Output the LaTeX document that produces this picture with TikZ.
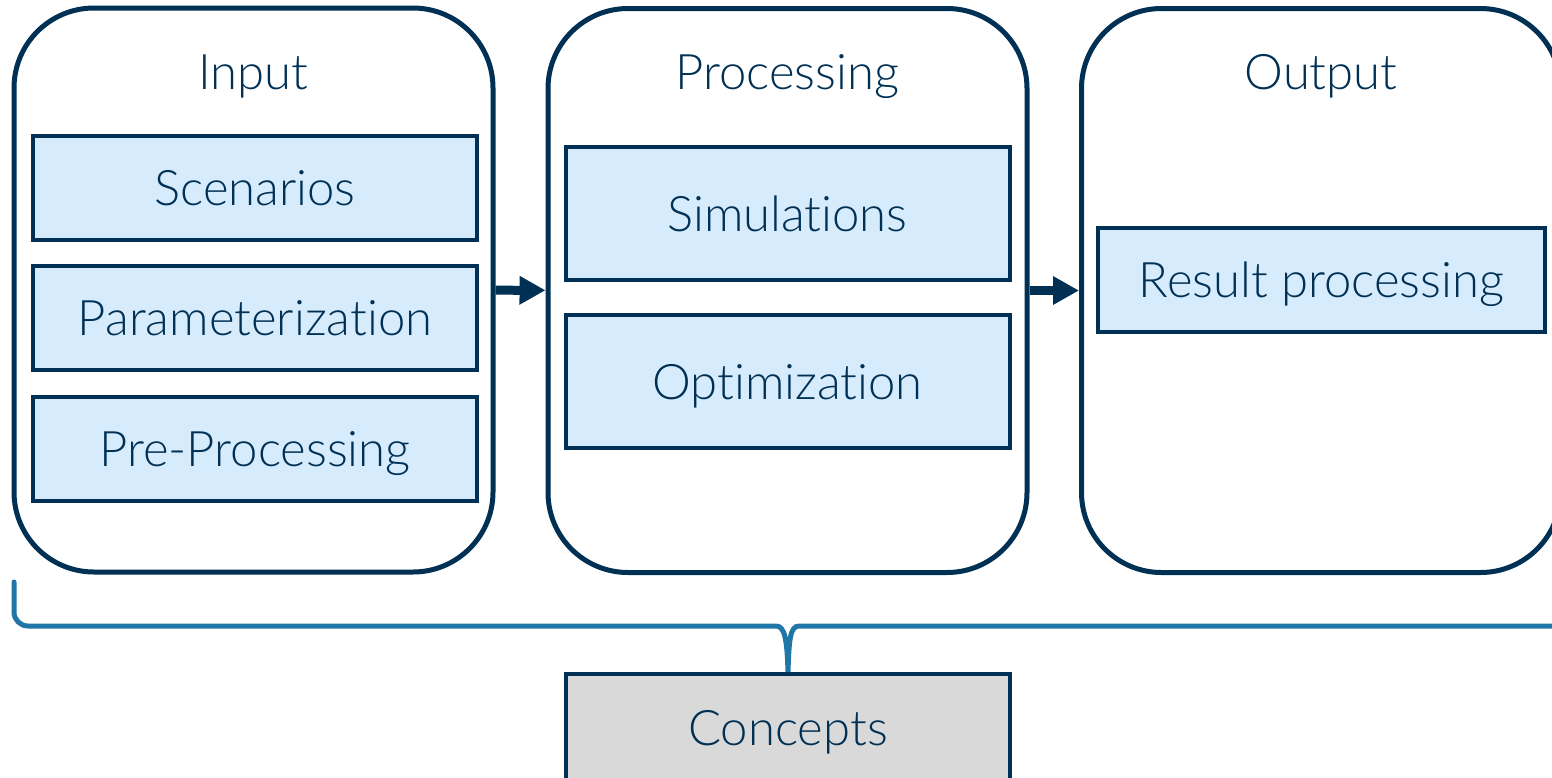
\documentclass[tikz,border=0pt]{standalone}
\usepackage{fontspec}
\setmainfont{Lato}[UprightFont = * Light, Ligatures = NoCommon]
\usepackage{tikz}
\usetikzlibrary{positioning,arrows.meta}
\definecolor{navy}{RGB}{0,48,84}
\definecolor{boxblue}{RGB}{214,235,252}
\definecolor{bracecol}{RGB}{33,118,168}
\definecolor{conceptgray}{RGB}{217,217,217}

\begin{document}
\begin{tikzpicture}[x=1pt,y=-1pt,
    stage/.style = {draw = navy, line width = 5pt, rounded corners = 80pt,
                    minimum width = 479pt, minimum height = 564pt},
    title/.style = {anchor = base, text = navy, font = \fontsize{49}{56}\selectfont},
    task/.style = {draw = navy, fill = boxblue, line width = 4pt, text = navy,
                   minimum width = 444pt, minimum height = 104pt,
                   text height = 35pt, text depth = 0pt,
                   font = \fontsize{49}{56}\selectfont},
    flow/.style = {draw = navy, line width = 9pt, -{Triangle[length=26pt,width=27pt]}},
    brace/.style = {draw = bracecol, line width = 5pt, line cap = round}]
        \useasboundingbox (0,0) rectangle (1552,777);
        % stages
        \node [stage] (input) at (253.5,290) {};
        \node [stage] (processing) at (787.5,290.5) {};
        \node [stage] (output) at (1321,290.5) {};
        \node [title] (inputtitle) at (input.north |- 0,89) {Input};
        \node [title] (processingtitle) at (processing.north |- 0,89) {Processing};
        \node [title] (outputtitle) at (output.north |- 0,89) {Output};
        % tasks
        \node [task] (scenarios) at (255,188) {Scenarios};
        \node [task, below = 22pt of scenarios] (param) {Parameterization};
        \node [task, below = 23pt of param] (preproc) {Pre-Processing};
        \node [task, minimum height = 133pt] (sim) at (787.5,213.5) {Simulations};
        \node [task, minimum height = 133pt, below = 31pt of sim] (optim) {Optimization};
        \node [task, minimum width = 447pt] (result) at (1321.5,280) {Result processing};
        \node [task, fill = conceptgray, minimum height = 108pt] (concepts) at (788,728) {Concepts};
        % arrows
        \draw [flow] (input) -- (processing);
        \draw [flow] (processing) -- (output);
        % brace
        \coordinate (bracestart) at (14,582);
        \coordinate (braceend) at (1560,626);
        \draw [brace] (bracestart) -- (14,612) to [out=-90,in=180] (28,626) -- (776,626)
            .. controls (785,626) and (787,640) .. (concepts.north)
            .. controls (789,640) and (790,626) .. (799,626) -- (braceend);
\end{tikzpicture}
\end{document}
